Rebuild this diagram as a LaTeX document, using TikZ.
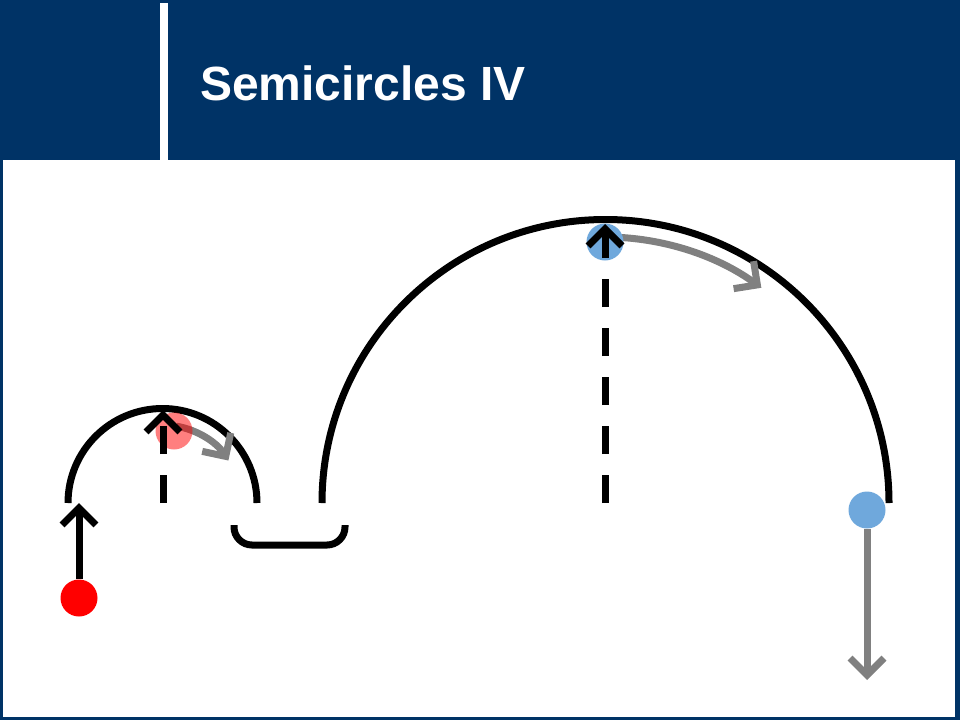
\documentclass[tikz,border=0pt]{standalone}
\usepackage{fontspec}
\setmainfont{Liberation Sans}
\usetikzlibrary{arrows.meta}
\definecolor{slideblue}{RGB}{0,51,102}
\definecolor{dotblue}{RGB}{111,168,220}

\begin{document}
\begin{tikzpicture}[x=1pt,y=-1pt,
    curve/.style={line width=7pt},
    barb/.style={-{Straight Barb[length=17pt,width=34pt]}},
    dot/.style={circle,inner sep=0pt,minimum size=37pt},
    motion/.style={line width=7pt,color=gray}]
    \fill[slideblue] (0,0) rectangle (960,720);
    \fill[white] (3,160) rectangle (955,717);
    \fill[white] (160,3) rectangle (168,160);
    \node[anchor=base west,text=white,inner sep=0pt,font=\bfseries\fontsize{48}{48}\selectfont] (title) at (200,100) {Semicircles IV};
    \coordinate (c1) at (163,503);
    \coordinate (c2) at (605,503);
    \coordinate (top1) at (163,410);
    \coordinate (top2) at (605,224);
    \coordinate (lift) at (79,503);
    \coordinate (fall) at (867,680);
    \draw[curve] (68,503) arc [start angle=180, end angle=360, radius=94.5];
    \draw[curve] (322,503) arc [start angle=180, end angle=360, radius=283.5];
    \draw[curve,rounded corners=18pt] (234,525) -- (234,545) -- (345,545) -- (345,525);
    \draw[motion,barb] ([shift={(280:78)}]c1) arc [start angle=280, end angle=327, radius=78];
    \draw[motion,barb] ([shift={(272:266)}]c2) arc [start angle=272, end angle=306, radius=266];
    \node[dot,fill=red] (start) at (79,598) {};
    \node[dot,fill=red,opacity=0.5] (peak1) at (174,431) {};
    \node[dot,fill=dotblue] (peak2) at (605,242) {};
    \node[dot,fill=dotblue] (drop) at (867,510) {};
    \draw[motion,barb] (drop) -- (fall);
    \draw[curve,barb] (start) -- (lift);
    \draw[curve,barb,dash pattern=on 28pt off 21pt] (c1) -- (top1);
    \draw[curve,barb,dash pattern=on 28pt off 21pt] (c2) -- (top2);
\end{tikzpicture}
\end{document}
